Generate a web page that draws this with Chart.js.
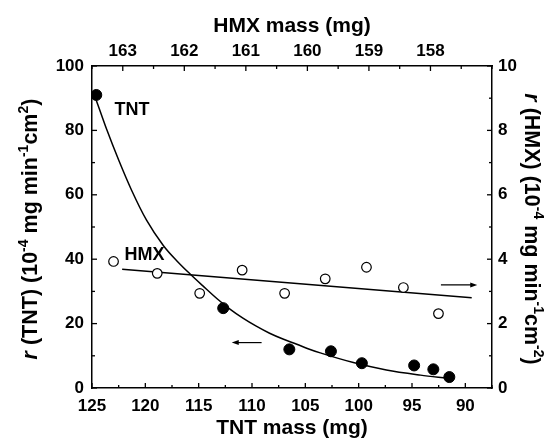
<!DOCTYPE html>
<html>
<head>
<meta charset="utf-8">
<script src="https://cdn.jsdelivr.net/npm/chart.js@4/dist/chart.umd.min.js"></script>
<style>
  html, body { margin: 0; padding: 0; background: #fff; }
</style>
</head>
<body>
<canvas id="myChart" width="549" height="443"></canvas>
<script>
// TNT measured points (bottom axis, left axis)
const tntMass = [124.6, 112.7, 106.5, 102.6, 99.7, 94.8, 93.0, 91.5];
const tntRate = [91.0, 24.8, 12.0, 11.4, 7.7, 7.0, 5.8, 3.4];

// TNT fitted curve
const tntFitMass = [124.6, 123.6, 122.5, 121.3, 119.9, 118.3, 116.9, 115.8, 114.6, 113.3, 112.1, 110.85, 109.6, 108.35, 107.1, 105.8, 104.75, 103.6, 100.5, 97.4, 94.2, 91.7];
const tntFitRate = [89.4, 80.1, 70.8, 61.5, 52.2, 44.2, 39.0, 35.4, 31.7, 27.8, 24.6, 21.7, 19.2, 17.0, 15.2, 13.6, 12.2, 10.9, 7.9, 5.6, 4.0, 3.0];

// HMX measured points (top axis, right axis)
const hmxMass = [163.15, 162.44, 161.75, 161.06, 160.37, 159.71, 159.04, 158.44, 157.87];
const hmxRate = [3.93, 3.56, 2.94, 3.66, 2.94, 3.39, 3.75, 3.12, 2.31];

// HMX fitted line
const hmxFitMass = [163.01, 157.33];
const hmxFitRate = [3.69, 2.80];

// axis ranges
const tntRange = [87.5, 125];
const hmxRange = [157.0, 163.5];
const tntRateRange = [0, 100];
const hmxRateRange = [0, 10];

const FONT = "'Liberation Sans', Arial, sans-serif";

function pts(xs, ys) {
  return xs.map((x, i) => ({ x: x, y: ys[i] }));
}
function near(v, step) {
  return Math.abs(v / step - Math.round(v / step)) < 1e-6;
}

// ticks pointing into the plot, major ones longer
const inTicks = {
  id: 'inTicks',
  afterDraw(chart) {
    const ctx = chart.ctx, a = chart.chartArea;
    ctx.save();
    ctx.strokeStyle = '#000';
    ctx.lineWidth = 1.3;
    ['x', 'x2', 'y', 'y2'].forEach(id => {
      const s = chart.scales[id];
      s.ticks.forEach(t => {
        const len = t.label !== '' ? 5 : 3;
        const p = s.getPixelForValue(t.value);
        ctx.beginPath();
        if (id === 'x') { ctx.moveTo(p, a.bottom); ctx.lineTo(p, a.bottom - len); }
        if (id === 'x2') { ctx.moveTo(p, a.top); ctx.lineTo(p, a.top + len); }
        if (id === 'y') { ctx.moveTo(a.left, p); ctx.lineTo(a.left + len, p); }
        if (id === 'y2') { ctx.moveTo(a.right, p); ctx.lineTo(a.right - len, p); }
        ctx.stroke();
      });
    });
    ctx.restore();
  }
};

// rotated y titles with italic r and superscripts
function drawRich(ctx, segs, cx, cy, angle, size) {
  const font = s => (s.it ? 'italic ' : '') + 'bold ' + (s.sup ? size * 0.65 : size) + 'px ' + FONT;
  let total = 0;
  segs.forEach(s => { ctx.font = font(s); total += ctx.measureText(s.t).width; });
  ctx.save();
  ctx.translate(cx, cy);
  ctx.rotate(angle);
  ctx.fillStyle = '#000';
  ctx.textBaseline = 'alphabetic';
  ctx.textAlign = 'left';
  let x = -total / 2;
  const base = size * 0.36;
  segs.forEach(s => {
    ctx.font = font(s);
    ctx.fillText(s.t, x, s.sup ? base - size * 0.42 : base);
    x += ctx.measureText(s.t).width;
  });
  ctx.restore();
}

const yTitles = {
  id: 'yTitles',
  afterDraw(chart) {
    const ctx = chart.ctx, a = chart.chartArea;
    const cy = (a.top + a.bottom) / 2;
    drawRich(ctx, [
      { t: 'r', it: true }, { t: ' (TNT) (10' }, { t: '-4', sup: true },
      { t: ' mg min' }, { t: '-1', sup: true }, { t: 'cm' }, { t: '2', sup: true }, { t: ')' }
    ], 29, cy + 2, -Math.PI / 2, 21.5);
    drawRich(ctx, [
      { t: 'r', it: true }, { t: ' (HMX) (10' }, { t: '-4', sup: true },
      { t: ' mg min' }, { t: '-1', sup: true }, { t: 'cm' }, { t: '-2', sup: true }, { t: ')' }
    ], 533, cy + 2, Math.PI / 2, 21.5);
  }
};

// series labels and the arrows showing which axis each series uses
const tntLabel = { x: 122.9, y: 86.3, text: 'TNT' };
const hmxLabel = { x: 162.97, y: 4.13, text: 'HMX' };
const tntArrow = { from: 109.1, to: 111.9, y: 14.1 };
const hmxArrow = { from: 157.83, to: 157.24, y: 3.2 };

function arrow(ctx, x1, y1, x2, y2) {
  const dir = Math.sign(x2 - x1);
  ctx.beginPath();
  ctx.moveTo(x1, y1);
  ctx.lineTo(x2 - dir * 4, y2);
  ctx.stroke();
  ctx.beginPath();
  ctx.moveTo(x2, y2);
  ctx.lineTo(x2 - dir * 7, y2 - 2.5);
  ctx.lineTo(x2 - dir * 7, y2 + 2.5);
  ctx.closePath();
  ctx.fill();
}

const notes = {
  id: 'notes',
  afterDatasetsDraw(chart) {
    const ctx = chart.ctx, s = chart.scales;
    ctx.save();
    ctx.fillStyle = '#000';
    ctx.strokeStyle = '#000';
    ctx.lineWidth = 1.2;
    ctx.font = 'bold 18px ' + FONT;
    ctx.textAlign = 'left';
    ctx.textBaseline = 'middle';
    ctx.fillText(tntLabel.text, s.x.getPixelForValue(tntLabel.x), s.y.getPixelForValue(tntLabel.y));
    ctx.fillText(hmxLabel.text, s.x2.getPixelForValue(hmxLabel.x), s.y2.getPixelForValue(hmxLabel.y));
    const ty = s.y.getPixelForValue(tntArrow.y);
    arrow(ctx, s.x.getPixelForValue(tntArrow.from), ty, s.x.getPixelForValue(tntArrow.to), ty);
    const hy = s.y2.getPixelForValue(hmxArrow.y);
    arrow(ctx, s.x2.getPixelForValue(hmxArrow.from), hy, s.x2.getPixelForValue(hmxArrow.to), hy);
    ctx.restore();
  }
};

const tickFont = { family: FONT, size: 17, weight: 'bold' };
const titleFont = { family: FONT, size: 21, weight: 'bold' };
const border = { display: true, color: '#000', width: 1.5 };
const grid = { display: false, drawTicks: false };

new Chart(document.getElementById('myChart'), {
  type: 'scatter',
  data: {
    datasets: [
      {
        data: pts(tntMass, tntRate), xAxisID: 'x', yAxisID: 'y',
        pointRadius: 5.5, pointBackgroundColor: '#000', pointBorderColor: '#000', showLine: false
      },
      {
        data: pts(hmxMass, hmxRate), xAxisID: 'x2', yAxisID: 'y2',
        pointRadius: 4.8, pointBackgroundColor: '#fff', pointBorderColor: '#000', pointBorderWidth: 1.2, showLine: false
      },
      {
        type: 'line', data: pts(tntFitMass, tntFitRate), xAxisID: 'x', yAxisID: 'y',
        borderColor: '#000', borderWidth: 1.5, pointRadius: 0, cubicInterpolationMode: 'monotone', fill: false
      },
      {
        type: 'line', data: pts(hmxFitMass, hmxFitRate), xAxisID: 'x2', yAxisID: 'y2',
        borderColor: '#000', borderWidth: 1.5, pointRadius: 0, fill: false
      }
    ]
  },
  options: {
    responsive: false,
    animation: false,
    layout: { padding: 0 },
    plugins: { legend: { display: false }, tooltip: { enabled: false } },
    scales: {
      x: {
        type: 'linear', position: 'bottom', reverse: true,
        min: tntRange[0], max: tntRange[1],
        grid: grid, border: border,
        ticks: {
          stepSize: 2.5, autoSkip: false, maxRotation: 0, padding: 8, color: '#000', font: tickFont,
          callback: v => near(v, 5) ? String(Math.round(v)) : ''
        },
        title: { display: true, text: 'TNT mass (mg)', color: '#000', font: titleFont, padding: { top: 0, bottom: 2 } },
        afterFit: s => { s.height = 55; }
      },
      x2: {
        type: 'linear', position: 'top', reverse: true,
        min: hmxRange[0], max: hmxRange[1],
        grid: grid, border: border,
        ticks: {
          stepSize: 0.5, autoSkip: false, maxRotation: 0, padding: 4, color: '#000', font: tickFont,
          callback: v => (near(v, 1) && v >= 158) ? String(Math.round(v)) : ''
        },
        title: { display: true, text: 'HMX mass (mg)', color: '#000', font: titleFont, padding: { top: 14, bottom: 0 } },
        afterFit: s => { s.height = 66; }
      },
      y: {
        type: 'linear', position: 'left',
        min: tntRateRange[0], max: tntRateRange[1],
        grid: grid, border: border,
        ticks: {
          stepSize: 10, autoSkip: false, padding: 8, color: '#000', font: tickFont,
          callback: v => near(v, 20) ? String(v) : ''
        },
        afterFit: s => { s.width = 92; }
      },
      y2: {
        type: 'linear', position: 'right',
        min: hmxRateRange[0], max: hmxRateRange[1],
        grid: grid, border: border,
        ticks: {
          stepSize: 1, autoSkip: false, padding: 6, color: '#000', font: tickFont,
          callback: v => near(v, 2) ? String(v) : ''
        },
        afterFit: s => { s.width = 57; }
      }
    }
  },
  plugins: [inTicks, yTitles, notes]
});
</script>
</body>
</html>
